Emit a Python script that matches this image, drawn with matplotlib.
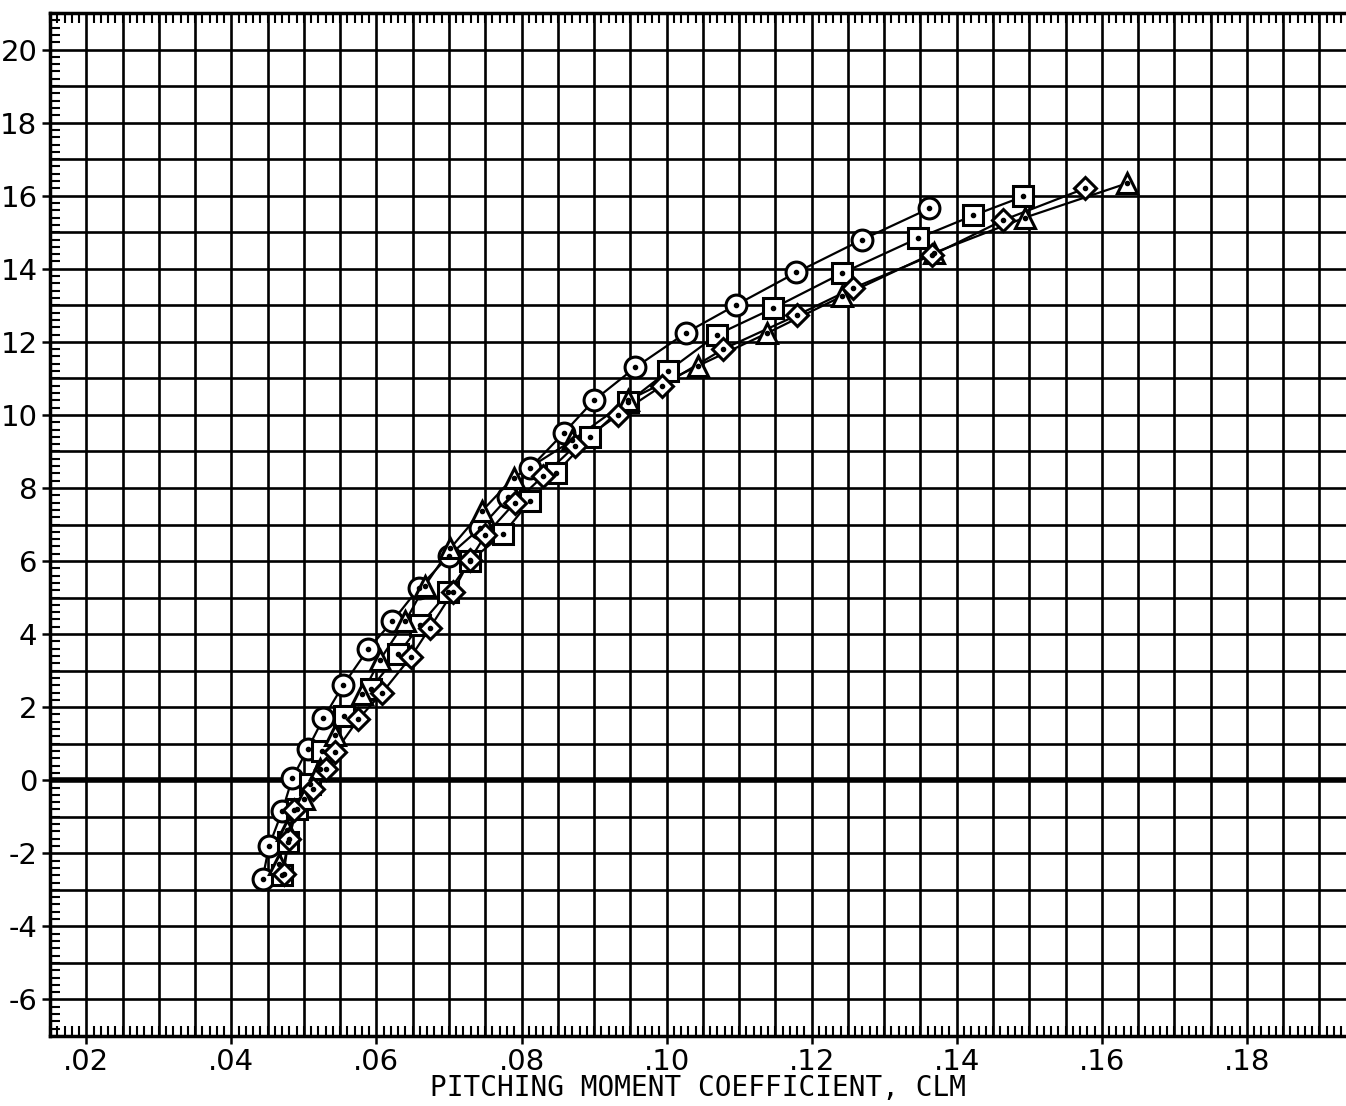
import matplotlib
matplotlib.use("Agg")
import matplotlib.pyplot as plt
from matplotlib.ticker import MultipleLocator
import numpy as np

plt.rcParams['axes.unicode_minus'] = False
plt.rcParams['font.family'] = ['DejaVu Sans']

# ---- data ----
circle_x = [0.0443, 0.0452, 0.0470, 0.0484, 0.0505, 0.0527, 0.0554, 0.0589, 0.0622, 0.0658,
            0.0700, 0.0743, 0.0782, 0.0812, 0.0858, 0.0900, 0.0957, 0.1027, 0.1095, 0.1179,
            0.1270, 0.1362]
circle_y = [-2.7, -1.8, -0.85, 0.05, 0.85, 1.7, 2.6, 3.6, 4.35, 5.25,
            6.15, 6.9, 7.75, 8.55, 9.5, 10.4, 11.3, 12.25, 13.0, 13.9,
            14.8, 15.65]

square_x = [0.0470, 0.0478, 0.0490, 0.0508, 0.0525, 0.0555, 0.0592, 0.0630, 0.0660, 0.0699,
            0.0729, 0.0775, 0.0812, 0.0847, 0.0895, 0.0947, 0.1002, 0.1070, 0.1147, 0.1242,
            0.1347, 0.1423, 0.1492]
square_y = [-2.6, -1.7, -0.8, -0.1, 0.8, 1.75, 2.5, 3.45, 4.25, 5.15,
            6.0, 6.75, 7.65, 8.4, 9.4, 10.35, 11.2, 12.2, 12.92, 13.88,
            14.84, 15.46, 15.98]

triangle_x = [0.0465, 0.0477, 0.0500, 0.0522, 0.0543, 0.0580, 0.0605, 0.0640, 0.0667, 0.0702,
              0.0746, 0.0789, 0.0870, 0.0947, 0.1043, 0.1139, 0.1242, 0.1368, 0.1494, 0.1635]
triangle_y = [-2.3, -1.35, -0.5, 0.3, 1.25, 2.35, 3.3, 4.35, 5.33, 6.35,
              7.38, 8.28, 9.3, 10.4, 11.34, 12.24, 13.25, 14.43, 15.4, 16.34]

diamond_x = [0.0472, 0.0479, 0.0486, 0.0512, 0.0530, 0.0543, 0.0575, 0.0608, 0.0647, 0.0674,
             0.0705, 0.0729, 0.0750, 0.0791, 0.0830, 0.0874, 0.0933, 0.0994, 0.1078, 0.1180,
             0.1257, 0.1366, 0.1464, 0.1577]
diamond_y = [-2.57, -1.6, -0.82, -0.25, 0.3, 0.77, 1.67, 2.4, 3.36, 4.18,
             5.14, 6.04, 6.7, 7.6, 8.33, 9.15, 10.0, 10.8, 11.8, 12.73,
             13.47, 14.37, 15.33, 16.2]

x_ticks = [0.02, 0.04, 0.06, 0.08, 0.10, 0.12, 0.14, 0.16, 0.18]
x_tick_labels = ['.02', '.04', '.06', '.08', '.10', '.12', '.14', '.16', '.18']
y_ticks = [-6, -4, -2, 0, 2, 4, 6, 8, 10, 12, 14, 16, 18, 20]
y_tick_labels = [str(v) for v in y_ticks]
x_label = 'PITCHING MOMENT COEFFICIENT, CLM'

# ---- figure ----
fig = plt.figure(figsize=(13.46, 11.06), dpi=100)
ax = fig.add_axes([50/1346, 1 - 1036/1106, 1 - 50/1346, (1036 - 13)/1106])
ax.set_xlim(0.015, 0.015 + 1296/7254)
ax.set_ylim(-7, 21)

# grid
ax.xaxis.set_minor_locator(MultipleLocator(0.001))
ax.yaxis.set_minor_locator(MultipleLocator(0.2))
gx = np.arange(0.015, 0.195, 0.005)
for g in gx:
    ax.axvline(g, color='black', lw=1.9, zorder=1)
for g in range(-7, 22):
    ax.axhline(g, color='black', lw=4.0 if g == 0 else 1.9, zorder=1)

series = [
    (circle_x, circle_y, 'o', 15),
    (square_x, square_y, 's', 15),
    (triangle_x, triangle_y, '^', 14),
    (diamond_x, diamond_y, 'D', 11),
]
for xs, ys, m, ms in series:
    ax.plot(xs, ys, color='black', lw=1.6, zorder=3)
    ax.plot(xs, ys, linestyle='none', marker=m, markersize=ms, markerfacecolor='white',
            markeredgecolor='black', markeredgewidth=2.2, zorder=4)
    ax.plot(xs, ys, linestyle='none', marker='o', markersize=3, color='black', zorder=5)

ax.set_xticks(x_ticks)
ax.set_xticklabels(x_tick_labels)
ax.set_yticks(y_ticks)
ax.set_yticklabels(y_tick_labels)
ax.tick_params(axis='both', which='major', direction='out', length=6, width=1.8,
               labelsize=21, pad=3)
ax.tick_params(axis='x', which='minor', direction='in', length=7, width=1.5, top=True, bottom=True)
ax.tick_params(axis='y', which='minor', direction='in', length=7, width=1.5, left=True, right=False)
ax.tick_params(axis='x', which='major', top=False)

for s in ['left', 'bottom', 'top']:
    ax.spines[s].set_linewidth(2.5)
ax.spines['right'].set_visible(False)

ax.set_xlabel(x_label, fontsize=20, family=['DejaVu Sans Mono'], labelpad=-2)

fig.savefig('out.png', dpi=100, facecolor='white')
